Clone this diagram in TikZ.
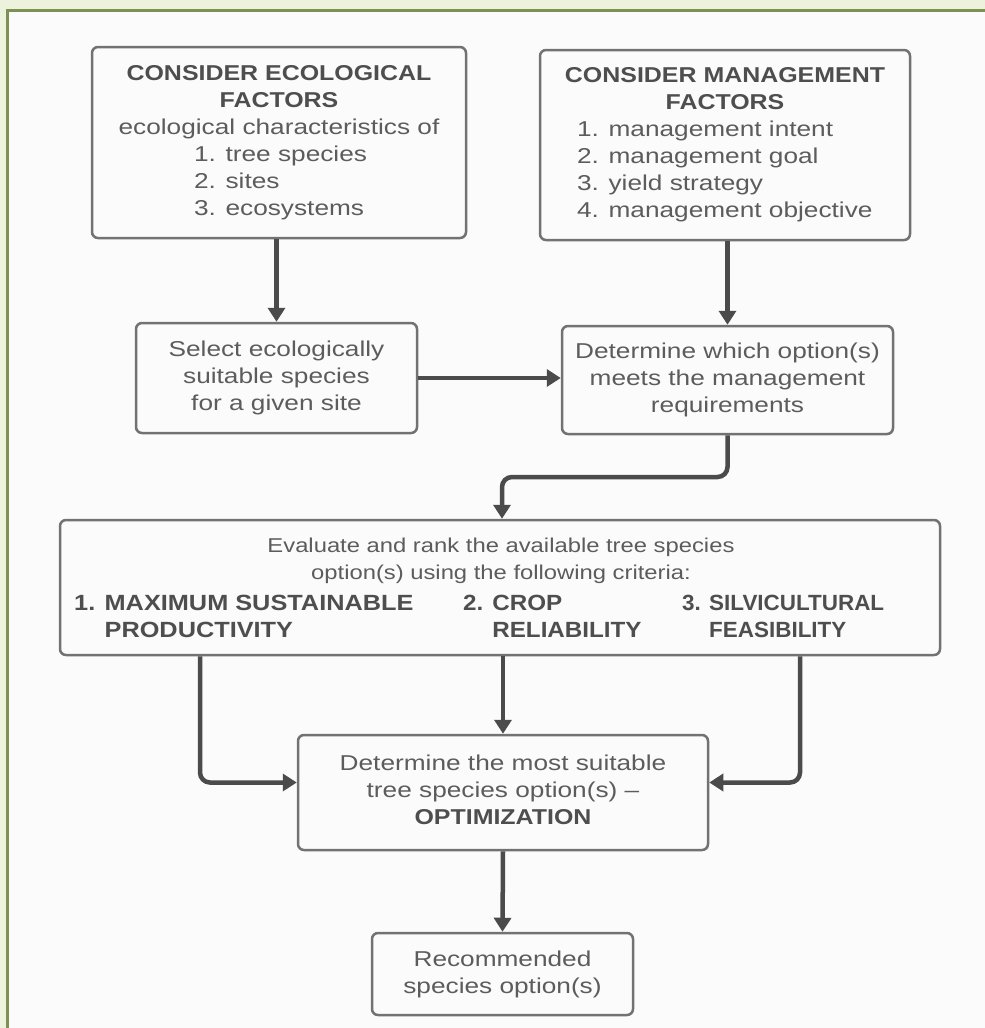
\documentclass[tikz,border=0pt]{standalone}
\usepackage{fontspec}
\setmainfont[FakeStretch=1.22,BoldFeatures={FakeStretch=1.16}]{Liberation Sans}
\newfontfamily\evalfont[FakeStretch=1.19]{Liberation Sans}
\newfontfamily\critfonta[FakeStretch=1.15]{Liberation Sans}
\newfontfamily\critfontb[FakeStretch=1.1]{Liberation Sans}
\newfontfamily\critfontc[FakeStretch=1.02]{Liberation Sans}
\usetikzlibrary{arrows.meta}
\definecolor{bgc}{HTML}{EDF2DC}
\definecolor{innerc}{HTML}{FBFBFB}
\definecolor{framec}{HTML}{7D9152}
\definecolor{boxc}{HTML}{727272}
\definecolor{arrc}{HTML}{4B4B4B}
\definecolor{txtc}{HTML}{5C5C5C}
\definecolor{boldc}{HTML}{4E4E4E}
\newcommand{\hd}[1]{{\bfseries\color{boldc}#1}}
\begin{document}
\begin{tikzpicture}[x=1pt,y=-1pt,
  box/.style={draw=boxc, line width=2.5pt, rounded corners=6pt, fill=innerc,
    text=txtc, align=center, inner sep=0pt,
    font=\fontsize{21.5}{27}\selectfont},
  lbl/.style={text=txtc, inner sep=0pt},
  crit/.style={lbl, anchor=west, align=left},
  arr/.style={draw=arrc, line width=4.5pt, rounded corners=10pt,
    -{Triangle[length=14pt,width=17pt]}}]
\useasboundingbox (0,0) rectangle (985,1028);
\fill[bgc] (0,0) rectangle (985,1028);
\fill[innerc] (7.5,10) rectangle (985,1028);
\draw[framec, line width=3pt] (7.5,1028) -- (7.5,10) -- (985,10);

\node[box, minimum width=374pt, minimum height=191pt] (eco) at (279,142.5)
  {\hd{CONSIDER ECOLOGICAL}\\\hd{FACTORS}\\ecological characteristics of\\
   \makebox[170pt][l]{1. tree species}\\
   \makebox[170pt][l]{2. sites}\\
   \makebox[170pt][l]{3. ecosystems}};

\node[box, minimum width=370pt, minimum height=190pt] (mgt) at (725,145)
  {\hd{CONSIDER MANAGEMENT}\\\hd{FACTORS}\\
   \makebox[296pt][l]{1. management intent}\\
   \makebox[296pt][l]{2. management goal}\\
   \makebox[296pt][l]{3. yield strategy}\\
   \makebox[296pt][l]{4. management objective}};

\node[box, minimum width=281pt, minimum height=110pt] (sel) at (276.5,378)
  {Select ecologically\\suitable species\\for a given site};

\node[box, minimum width=331pt, minimum height=108pt] (det) at (727.5,380)
  {Determine which option(s)\\meets the management\\requirements};

\node[box, minimum width=880pt, minimum height=135pt] (eval) at (500,587.5) {};
\node[lbl, align=center, font=\evalfont\fontsize{20}{27}\selectfont] (evalt) at (501,561)
  {Evaluate and rank the available tree species\\option(s) using the following criteria:};
\node[crit, font=\critfonta\fontsize{22}{27}\selectfont] (c1) at (74,616.5)
  {\hd{1. MAXIMUM SUSTAINABLE}\\\hd{\phantom{1. }PRODUCTIVITY}};
\node[crit, font=\critfontb\fontsize{22}{27}\selectfont] (c2) at (463,616.5)
  {\hd{2. CROP}\\\hd{\phantom{2. }RELIABILITY}};
\node[crit, font=\critfontc\fontsize{22}{27}\selectfont] (c3) at (682,616.5)
  {\hd{3. SILVICULTURAL}\\\hd{\phantom{3. }FEASIBILITY}};

\node[box, minimum width=410pt, minimum height=115pt] (opt) at (503,792.5)
  {\raisebox{5pt}{\begin{tabular}{@{}c@{}}Determine the most suitable\\tree species option(s) --\\\hd{OPTIMIZATION}\end{tabular}}};

\node[box, minimum width=261pt, minimum height=82pt] (rec) at (502.5,974)
  {Recommended\\species option(s)};

\draw[arr] (sel.north |- eco.south) -- (sel.north);
\draw[arr] (det.north |- mgt.south) -- (det.north);
\draw[arr] (sel.east) -- (det.west |- sel.east);
\draw[arr] (det.south) -- (det.south |- 0,477) -| ([xshift=2pt]eval.north);
\draw[arr] ([xshift=-300pt]eval.south) |- ([yshift=10pt]opt.west);
\draw[arr] (opt.north |- eval.south) -- (opt.north);
\draw[arr] ([xshift=300pt]eval.south) |- ([yshift=10pt]opt.east);
\draw[arr] (opt.south) -- (rec.north);
\end{tikzpicture}
\end{document}
